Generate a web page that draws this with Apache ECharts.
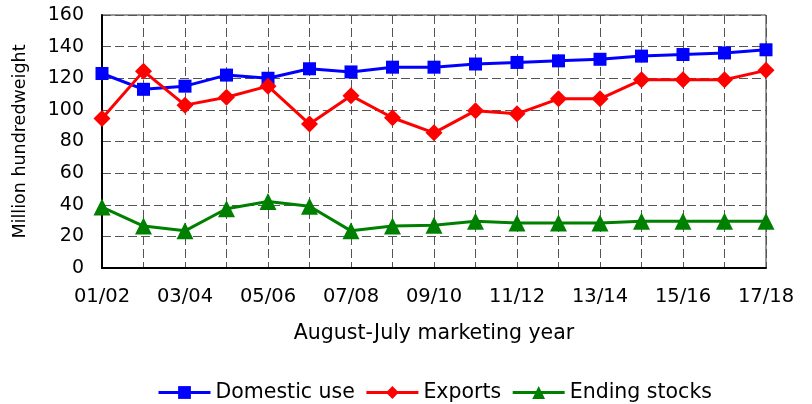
<!DOCTYPE html>
<html>
<head>
<meta charset="utf-8">
<script src="https://cdn.jsdelivr.net/npm/echarts@6/dist/echarts.min.js"></script>
<style>
  html, body { margin: 0; padding: 0; background: #fff; }
  #chart { width: 812px; height: 404px; }
</style>
</head>
<body>
<div id="chart"></div>
<script>
// 营销年度（8月-7月）
const years = ['01/02', '02/03', '03/04', '04/05', '05/06', '06/07', '07/08', '08/09', '09/10',
  '10/11', '11/12', '12/13', '13/14', '14/15', '15/16', '16/17', '17/18']
const domesticUse = [123, 113, 115, 122, 120, 126, 124, 127, 127, 129, 130, 131, 132, 134, 135, 136, 138]
const exportsData = [94.5, 124.5, 103, 108, 115, 91, 109, 95, 85.5, 99.5, 97.5, 107, 107, 119, 119, 119, 125]
const endingStocks = [38.5, 26.5, 23.5, 37.5, 42, 39, 23.5, 26.5, 27, 29.5, 28.5, 28.5, 28.5, 29.5, 29.5, 29.5, 29.5]
const yTicks = { min: 0, max: 160, interval: 20 }

const font = 'DejaVu Sans, Verdana, sans-serif'
const chart = echarts.init(document.getElementById('chart'))

const makeSeries = (name, data, color, symbol, size) => ({
  name,
  type: 'line',
  data,
  symbol,
  symbolSize: size,
  color,
  lineStyle: { color, width: 3 },
  itemStyle: { color },
  animation: false
})

const gridDash = { color: '#555', type: [9, 4], width: 1 }

chart.setOption({
  backgroundColor: '#fff',
  textStyle: { fontFamily: font },
  grid: {
    left: 102, right: 46, top: 15, bottom: 136,
    show: true, borderColor: '#333', borderWidth: 1
  },
  legend: {
    top: 377,
    left: 152,
    itemWidth: 52,
    itemHeight: 16,
    itemGap: 10,
    lineStyle: { width: 3 },
    textStyle: { fontSize: 20.5, color: '#000', fontFamily: font }
  },
  xAxis: {
    type: 'category',
    data: years,
    boundaryGap: false,
    name: 'August-July marketing year',
    nameLocation: 'middle',
    nameGap: 55,
    nameTextStyle: { fontSize: 20.5, color: '#000' },
    axisLine: { lineStyle: { color: '#000', width: 2 } },
    axisTick: { show: false },
    axisLabel: { interval: 1, fontSize: 19.5, color: '#000', margin: 19 },
    splitLine: { show: true, interval: 0, lineStyle: gridDash }
  },
  yAxis: {
    type: 'value',
    min: yTicks.min,
    max: yTicks.max,
    interval: yTicks.interval,
    name: 'Million hundredweight',
    nameLocation: 'middle',
    nameGap: 73,
    nameTextStyle: { fontSize: 17.5, color: '#000' },
    axisLine: { show: true, lineStyle: { color: '#000', width: 2 } },
    axisTick: { show: false },
    axisLabel: { fontSize: 19, color: '#000', margin: 18 },
    splitLine: { show: true, lineStyle: gridDash }
  },
  series: [
    makeSeries('Domestic use', domesticUse, '#0000ff', 'rect', 13),
    makeSeries('Exports', exportsData, '#ff0000', 'diamond', 17),
    makeSeries('Ending stocks', endingStocks, '#008000', 'triangle', 17)
  ]
})
</script>
</body>
</html>
